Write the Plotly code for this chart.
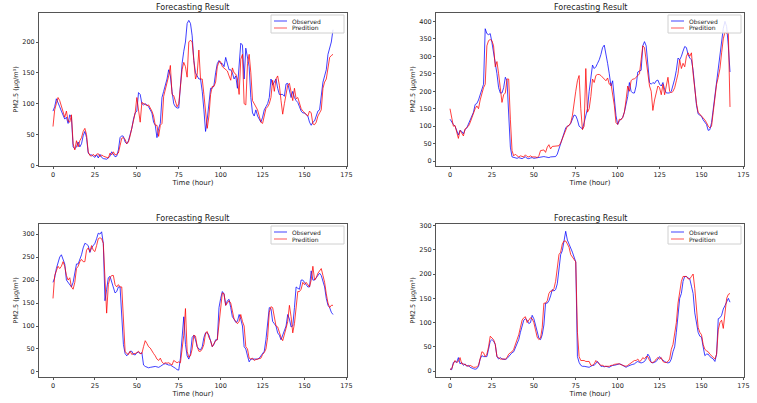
import plotly.graph_objects as go

hours = list(range(168))

p1_obs = [88, 95, 108, 100, 95, 88, 80, 75, 78, 68,
          82, 78, 30, 27, 30, 38, 30, 35, 48, 55,
          45, 20, 17, 17, 15, 13, 17, 12, 18, 13,
          11, 10, 10, 12, 15, 22, 18, 14, 15, 25,
          45, 48, 47, 38, 35, 40, 50, 60, 75, 85,
          88, 118, 115, 100, 98, 100, 98, 95, 90, 85,
          70, 65, 45, 60, 68, 110, 120, 130, 140, 155,
          145, 120, 100, 95, 93, 93, 130, 165, 185, 200,
          230, 235, 230, 210, 170, 150, 145, 140, 140, 120,
          90, 55, 75, 100, 125, 125, 130, 150, 165, 170,
          165, 165, 160, 175, 165, 155, 155, 150, 140, 145,
          125, 170, 198, 195, 140, 190, 175, 160, 110, 85,
          80, 90, 80, 75, 70, 78, 90, 95, 100, 110,
          140, 130, 135, 140, 125, 115, 115, 115, 112, 132,
          133, 120, 110, 120, 110, 105, 102, 95, 88, 85,
          85, 82, 80, 70, 65, 70, 72, 80, 88, 90,
          110, 135, 145, 155, 180, 190, 200, 220]
p1_pred = [63, 90, 100, 110, 105, 95, 85, 78, 88, 72,
           70, 82, 35, 25, 40, 30, 40, 45, 55, 60,
           50, 22, 16, 15, 18, 15, 18, 19, 14, 17,
           15, 14, 13, 12, 20, 17, 22, 17, 18, 20,
           32, 44, 45, 42, 35, 38, 48, 60, 75, 85,
           110, 90, 70, 102, 100, 98, 97, 98, 93, 88,
           80, 65, 65, 47, 65, 68, 112, 122, 132, 145,
           162, 115, 113, 105, 95, 100, 135, 155, 167, 160,
           143, 200, 203, 200, 170, 140, 148, 187, 140, 140,
           115, 80, 60, 80, 115, 128, 128, 135, 160, 168,
           168, 160, 158, 155, 153, 145, 138, 158, 150, 148,
           140, 115, 172, 180, 100, 98, 165, 180, 150, 105,
           100, 95, 90, 80, 70, 68, 78, 92, 95, 100,
           110, 138, 120, 140, 145, 130, 105, 83, 100, 115,
           130, 133, 120, 105, 125, 108, 110, 100, 92, 88,
           85, 83, 80, 88, 85, 67, 66, 70, 80, 85,
           90, 125, 135, 140, 160, 175, 178, 180]

p2_obs = [120, 110, 105, 100, 85, 75, 88, 85, 78, 90,
          95, 105, 115, 130, 140, 162, 165, 175, 190, 200,
          220, 379, 365, 362, 365, 340, 315, 280, 250, 210,
          195, 195, 210, 240, 230, 120, 40, 12, 10, 8,
          8, 10, 8, 7, 10, 12, 8, 7, 9, 10,
          8, 9, 10, 12, 13, 13, 13, 12, 11, 10,
          12, 13, 14, 13, 20, 35, 50, 65, 80, 95,
          100, 102, 108, 120, 132, 130, 118, 100, 95, 92,
          110, 135, 150, 200, 240, 275, 265, 270, 280, 290,
          305, 325, 332, 310, 280, 250, 215, 230, 180, 130,
          105, 115, 120, 125, 140, 160, 185, 225, 200, 195,
          195, 215, 255, 258, 260, 330, 342, 330, 280, 225,
          220, 225, 222, 230, 232, 220, 215, 225, 205, 195,
          195, 195, 200, 215, 235, 260, 295, 290, 300, 315,
          328, 325, 305, 295, 290, 260, 200, 160, 135, 130,
          128, 118, 112, 105, 88, 90, 110, 150, 190, 225,
          260, 300, 340, 380, 400, 385, 330, 255]
p2_pred = [150, 120, 100, 102, 80, 65, 88, 80, 72, 92,
           95, 100, 110, 125, 138, 150, 158, 150, 175, 195,
           210, 220, 330, 345, 348, 345, 330, 270, 285, 250,
           200, 168, 190, 195, 235, 235, 120, 30, 15, 20,
           15, 12, 15, 13, 12, 18, 13, 12, 15, 12,
           13, 12, 10, 15, 30, 30, 32, 25, 40, 47,
           35, 42, 42, 44, 43, 44, 52, 65, 72, 90,
           100, 102, 110, 130, 175, 200, 230, 245, 150, 90,
           100, 265, 140, 150, 185, 235, 225, 245, 248, 248,
           245, 240, 235, 230, 238, 220, 222, 190, 160, 110,
           105, 120, 118, 125, 140, 175, 215, 200, 230, 235,
           235, 240, 245, 250, 290, 330, 325, 290, 240, 215,
           200, 145, 175, 200, 215, 210, 190, 220, 190, 215,
           240, 200, 195, 200, 210, 230, 250, 290, 265, 280,
           270, 300, 310, 300, 310, 250, 200, 165, 140, 135,
           130, 125, 118, 110, 100, 95, 100, 140, 190, 220,
           240, 265, 310, 350, 370, 365, 370, 155]

p3_obs = [195, 205, 225, 240, 250, 255, 245, 235, 200, 195,
          190, 185, 195, 220, 235, 235, 245, 255, 270, 280,
          278, 275, 260, 270, 275, 280, 290, 302, 300, 305,
          280, 155, 180, 205, 208, 195, 180, 172, 175, 185,
          185, 120, 60, 40, 35, 40, 45, 45, 38, 37,
          42, 43, 40, 42, 15, 12, 10, 9, 10, 11,
          11, 12, 11, 10, 12, 15, 17, 18, 16, 15,
          15, 13, 10, 8, 5, 4, 30, 80, 120, 60,
          35, 28, 40, 75, 80, 70, 55, 50, 48, 55,
          75, 85, 85, 80, 65, 55, 60, 70, 70, 140,
          160, 175, 170, 145, 155, 158, 140, 120, 115, 108,
          110, 125, 115, 100, 55, 50, 35, 22, 28, 28,
          27, 28, 28, 30, 35, 40, 45, 70, 105, 140,
          138, 110, 105, 100, 85, 80, 70, 80, 90, 100,
          125, 115, 98, 100, 140, 185, 182, 180, 200, 200,
          195, 190, 185, 185, 220, 200, 200, 205, 210, 215,
          210, 195, 185, 160, 145, 140, 130, 125]
p3_pred = [160, 210, 220, 230, 225, 230, 240, 230, 210, 200,
           205, 185, 180, 195, 225, 230, 240, 245, 240, 240,
           265, 270, 262, 275, 265, 262, 275, 290, 292, 290,
           280, 200, 128, 190, 205, 210, 210, 190, 185, 190,
           185, 185, 100, 45, 40, 38, 45, 38, 40, 40,
           42, 45, 40, 40, 55, 68, 62, 55, 52, 45,
           40, 35, 28, 25, 30, 22, 18, 20, 19, 20,
           18, 15, 25, 22, 20, 22, 20, 50, 80, 138,
           45, 32, 35, 50, 80, 78, 55, 45, 45, 50,
           60, 85, 88, 75, 68, 55, 62, 68, 70, 110,
           140, 172, 170, 145, 150, 155, 150, 130, 115, 110,
           105, 110, 125, 110, 100, 55, 50, 30, 28, 30,
           25, 27, 28, 28, 30, 38, 42, 50, 75, 130,
           142, 140, 115, 100, 98, 85, 75, 68, 85, 95,
           110, 145, 120, 85, 105, 150, 175, 175, 180, 195,
           190, 195, 190, 185, 200, 230, 200, 205, 215, 220,
           225, 210, 195, 170, 150, 140, 145, 145]

p4_obs = [5, 3, 18, 20, 18, 28, 15, 18, 12, 15,
          10, 12, 8, 6, 5, 4, 5, 10, 25, 32,
          30, 30, 30, 45, 62, 65, 62, 55, 30, 25,
          28, 25, 25, 24, 26, 30, 35, 38, 40, 48,
          55, 65, 80, 95, 105, 108, 105, 98, 100, 115,
          108, 95, 80, 68, 65, 75, 95, 140, 140, 145,
          155, 168, 165, 168, 180, 205, 240, 248, 270, 288,
          270, 262, 255, 245, 235, 225, 30, 18, 12, 10,
          10, 9, 8, 8, 10, 12, 12, 15, 20, 15,
          10, 10, 9, 10, 9, 8, 10, 12, 12, 13,
          14, 15, 14, 12, 10, 8, 10, 12, 13, 14,
          15, 18, 20, 18, 17, 18, 20, 25, 35, 30,
          18, 17, 18, 20, 25, 30, 25, 22, 20, 18,
          17, 18, 25, 40, 50, 80, 110, 150, 160, 185,
          195, 195, 192, 190, 175, 160, 120, 100, 80, 72,
          70, 50, 32, 35, 35, 30, 28, 25, 20, 35,
          108, 110, 115, 128, 135, 142, 150, 142]
p4_pred = [3, 5, 15, 22, 18, 20, 28, 15, 15, 13,
           12, 10, 12, 10, 8, 8, 9, 12, 28, 40,
           38, 30, 35, 50, 72, 68, 65, 55, 30, 28,
           25, 25, 25, 25, 28, 35, 38, 40, 45, 55,
           65, 75, 90, 105, 110, 112, 100, 105, 110, 108,
           100, 85, 70, 65, 68, 90, 140, 140, 145, 160,
           165, 165, 170, 185, 210, 240, 245, 262, 268, 268,
           262, 255, 240, 235, 228, 225, 80, 30, 22, 22,
           22, 20, 20, 20, 12, 12, 15, 22, 18, 15,
           12, 12, 10, 10, 10, 10, 12, 12, 14, 15,
           15, 15, 13, 12, 11, 10, 12, 15, 18, 20,
           22, 22, 25, 20, 22, 28, 25, 30, 30, 22,
           18, 18, 20, 25, 28, 25, 28, 20, 18, 18,
           20, 25, 45, 55, 80, 100, 140, 160, 185, 195,
           195, 195, 190, 190, 195, 200, 170, 125, 90, 80,
           75, 55, 45, 42, 40, 35, 32, 30, 25, 35,
           85, 100, 105, 88, 120, 150, 158, 160]

series_names = ["Observed", "Predition"]
series_colors = ["rgba(0,0,255,0.75)", "rgba(255,0,0,0.75)"]
legend_colors = ["rgba(60,60,255,0.8)", "rgba(255,80,80,0.8)"]
title_text = "Forecasting Result"
x_label = "Time (hour)"
y_label = "PM2.5 (μg/m³)"

y_ranges = [[-1, 247], [-14, 424], [-11, 322], [-12, 303]]
y_ticks = [list(range(0, 201, 50)), list(range(0, 401, 50)),
           list(range(0, 301, 50)), list(range(0, 301, 50))]
x_ticks = list(range(0, 176, 25))

W, H = 757, 403
# plot-area pixel boxes (left, right, top, bottom)
boxes_px = [(39, 347, 13, 166), (436, 744, 13, 166),
            (39, 347, 224, 377), (436, 744, 224, 377)]

FONT = "DejaVu Sans"
TXT = "#222"


def px(xp):
    return xp / W


def py(yp):
    return 1 - yp / H


fig = go.Figure()
panels = [(p1_obs, p1_pred), (p2_obs, p2_pred), (p3_obs, p3_pred), (p4_obs, p4_pred)]
layout = {}
shapes = []
annotations = []
for i, series in enumerate(panels):
    sfx = "" if i == 0 else str(i + 1)
    L, R, T, B = boxes_px[i]
    for name, vals, col in zip(series_names, series, series_colors):
        fig.add_trace(go.Scatter(x=hours, y=vals, mode="lines", name=name,
                                 line=dict(color=col, width=1), showlegend=False,
                                 xaxis="x" + sfx, yaxis="y" + sfx))
    axcommon = dict(showline=True, mirror=True, linecolor="#555", linewidth=1,
                    ticks="outside", ticklen=2, tickcolor="#555", showgrid=False,
                    zeroline=False, automargin=False,
                    tickfont=dict(family=FONT, size=6.5, color=TXT))
    layout["xaxis" + sfx] = dict(domain=[px(L), px(R)], range=[-8.35, 175.35], tickvals=x_ticks,
                                 anchor="y" + sfx,
                                 title=dict(text=x_label, font=dict(family=FONT, size=7, color=TXT),
                                            standoff=0),
                                 **axcommon)
    layout["yaxis" + sfx] = dict(domain=[py(B), py(T)], range=y_ranges[i], tickvals=y_ticks[i],
                                 anchor="x" + sfx,
                                 title=dict(text=y_label,
                                            font=dict(family=FONT, size=6.5, color=TXT),
                                            standoff=3),
                                 **axcommon)
    # title
    annotations.append(dict(text=title_text, x=px((L + R) / 2), y=py(T),
                            xref="paper", yref="paper", xanchor="center", yanchor="bottom",
                            yshift=-1, showarrow=False,
                            font=dict(family=FONT, size=8, color=TXT)))
    # legend box (drawn manually to match compact matplotlib legend)
    shapes.append(dict(type="rect", xref="paper", yref="paper",
                       x0=px(R - 76), x1=px(R - 3), y0=py(T + 20), y1=py(T + 2),
                       line=dict(color="#d0d0d0", width=1), fillcolor="rgba(255,255,255,0.85)",
                       layer="above"))
    for k, (name, lcol) in enumerate(zip(series_names, legend_colors)):
        yy = T + 8 + 7 * k
        shapes.append(dict(type="line", xref="paper", yref="paper",
                           x0=px(R - 73), x1=px(R - 60), y0=py(yy), y1=py(yy),
                           line=dict(color=lcol, width=1.2), layer="above"))
        annotations.append(dict(text=name, x=px(R - 57), y=py(yy), xref="paper", yref="paper",
                                xanchor="left", yanchor="middle", showarrow=False,
                                font=dict(family=FONT, size=6, color=TXT)))

fig.update_layout(width=W, height=H, margin=dict(l=0, r=0, t=0, b=0, autoexpand=False),
                  paper_bgcolor="white", plot_bgcolor="white", showlegend=False,
                  shapes=shapes, annotations=annotations, **layout)
fig.write_html("out.html", config={"displayModeBar": False},
               post_script="document.body.style.margin='0px';document.body.style.padding='0px';")
